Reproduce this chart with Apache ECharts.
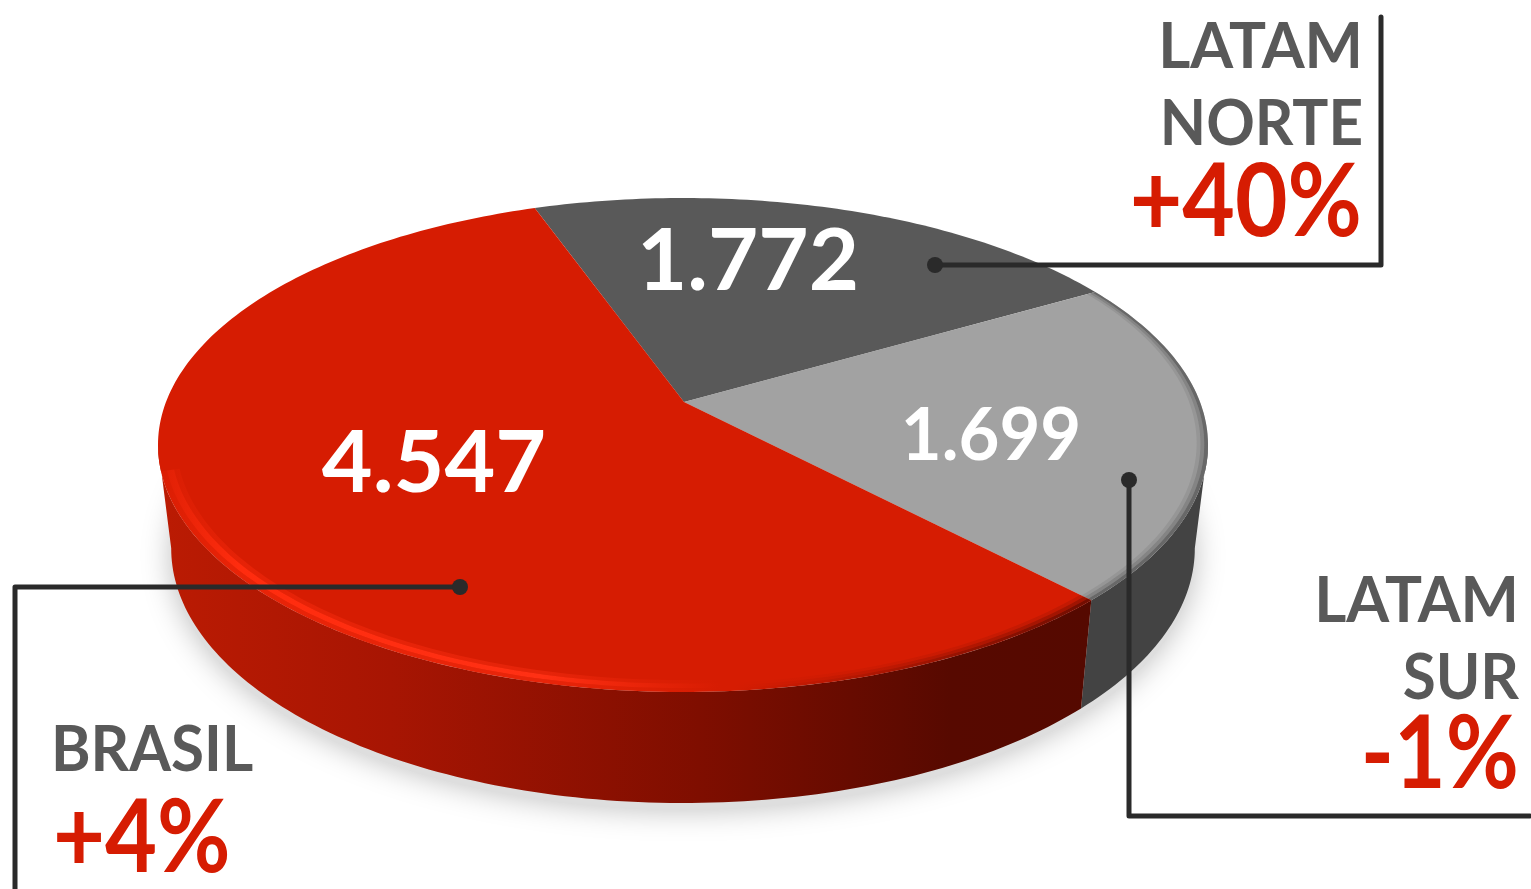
<!DOCTYPE html>
<html>
<head>
<meta charset="utf-8">
<title>Ventas por region</title>
<script src="https://cdn.jsdelivr.net/npm/echarts@6/dist/echarts.min.js"></script>
<style>
html,body{margin:0;padding:0;background:#fff;overflow:hidden}
#chart{width:1531px;height:889px}
</style>
</head>
<body>
<div id="chart"></div>
<script>
// clockwise from the slice that starts at the far left of the back edge
const categories = ['LATAM NORTE', 'LATAM SUR', 'BRASIL'];
const values = [1772, 1699, 4547];
const valueLabels = ['1.772', '1.699', '4.547'];
const changes = ['+40%', '-1%', '+4%'];

const START_ANGLE = -19.5;
const topColors = ['#595959', '#a2a2a2', '#d61c02'];
const K = 0.174; // perspective of the disc
const TOP = {cx: 683, cy: 402, a: 517, b: 239.5};
const BOTTOM = {cx: 683, cy: 504, a: 504, b: 247};
const RED_WALL = ['#bb1b03', '#a71503', '#7f0e00', '#570900', '#550900'];
// where the disc is widest, the wall ends there
const EDGE_R = 100, EDGE_L = 260;

let total = values.reduce((s, v) => s + v, 0);
function sliceAngles(i){
    let start = START_ANGLE;
    for(let n = 0; n < i; n++) start += values[n] / total * 360;
    return [start, start + values[i] / total * 360];
}
function proj(face, deg, r){
    let t = deg * Math.PI / 180;
    let u = r * Math.sin(t), v = -r * Math.cos(t);
    let d = 1 - K * v;
    return [face.cx + face.a * u / d, face.cy + face.b * v / d];
}
function arc(face, a0, a1, r){
    let pts = [], n = Math.max(2, Math.ceil(Math.abs(a1 - a0)));
    for(let i = 0; i <= n; i++) pts.push(proj(face, a0 + (a1 - a0) * i / n, r));
    return pts;
}
function band(a0, a1, r0, r1, fill){
    return {
        type: 'polygon',
        shape: {points: arc(TOP, a0, a1, r0).concat(arc(TOP, a1, a0, r1))},
        style: {fill: fill}
    };
}
function xGradient(stops){
    return new echarts.graphic.LinearGradient(0, 0, 1, 0, stops.map(s => ({offset: s[0], color: s[1]})));
}

function renderShadow(params){
    if(params.dataIndex) return;
    return {
        type: 'polygon',
        shape: {points: arc({...BOTTOM, cy: BOTTOM.cy + 7}, 0, 360, 1)},
        style: {fill: '#dedede', shadowBlur: 30, shadowColor: 'rgba(0,0,0,.26)'}
    };
}
function renderWall(params){
    let [a0, a1] = sliceAngles(params.dataIndex);
    let isRed = params.dataIndex === 2;
    // only the front of the disc shows a wall
    let from = Math.max(a0, EDGE_R), to = Math.min(a1, EDGE_L);
    if(to <= from) return;
    return {
        type: 'polygon',
        shape: {points: arc(TOP, from, to, 1).concat(arc(BOTTOM, to, from, 1))},
        style: {
            fill: isRed ? xGradient([[0, RED_WALL[0]], [.25, RED_WALL[1]], [.58, RED_WALL[2]], [.85, RED_WALL[3]], [1, RED_WALL[4]]]) : '#434343'
        }
    };
}
function renderTop(params){
    let i = params.dataIndex;
    let [a0, a1] = sliceAngles(i);
    let face = arc(TOP, a0, a1, 1);
    let children = [{
        type: 'polygon',
        shape: {points: [[TOP.cx + 1, TOP.cy]].concat(face)},
        style: {fill: topColors[i]}
    }];
    if(i === 1){
        children.push(band(a0, a1, 1, .993, 'rgba(67,67,67,.62)'));
        children.push(band(a0, a1, .993, .986, 'rgba(67,67,67,.32)'));
        children.push(band(a0, a1, .986, .979, 'rgba(67,67,67,.12)'));
    }
    if(i === 2){
        let hot = a => xGradient([[0, 'rgba(255,44,14,' + a * .3 + ')'], [.08, 'rgba(255,44,14,' + a + ')'], [.42, 'rgba(255,48,20,' + a + ')'], [.62, 'rgba(255,44,14,0)'], [1, 'rgba(255,44,14,0)']]);
        let h0 = a0 + 4, h1 = EDGE_L - 6;
        children.push(band(h0, h1, 1, .989, hot(.45)));
        children.push(band(h0, h1, .989, .976, hot(1)));
        children.push(band(h0, h1, .976, .966, hot(.4)));
        let deep = a => xGradient([[0, 'rgba(80,8,0,0)'], [.25, 'rgba(80,8,0,0)'], [1, 'rgba(80,8,0,' + a + ')']]);
        children.push(band(a0, a0 + 50, 1, .992, deep(.75)));
        children.push(band(a0, a0 + 50, .992, .984, deep(.42)));
        children.push(band(a0, a0 + 50, .984, .976, deep(.15)));
    }
    return {type: 'group', children: children};
}

// leader lines and their end dots
function leader(points, dot){
    return [
        {type: 'polyline', z: 10, shape: {points: points}, style: {stroke: '#2a2a2a', lineWidth: 5, fill: null, lineJoin: 'round', lineCap: 'round'}},
        {type: 'circle', z: 10, shape: {cx: dot[0], cy: dot[1], r: 8}, style: {fill: '#2a2a2a'}}
    ];
}
function label(text, x, y, size, color, align, scaleX){
    return {
        type: 'text', z: 11, x: x, y: y, scaleX: scaleX || 1,
        style: {text: text, align: align, verticalAlign: 'middle', fill: color, font: 'bold ' + size + 'px Lato'}
    };
}
const GREY_TEXT = '#595959', RED_TEXT = '#d61c02', WHITE = '#fff';
let norte = categories[0].split(' '), sur = categories[1].split(' ');

let chart = echarts.init(document.getElementById('chart'));
chart.setOption({
    animation: false,
    series: [
        {type: 'custom', coordinateSystem: 'none', data: values, renderItem: renderShadow, z: 1, silent: true},
        {type: 'custom', coordinateSystem: 'none', data: values, renderItem: renderWall, z: 2, silent: true},
        {type: 'custom', coordinateSystem: 'none', data: values, renderItem: renderTop, z: 3, silent: true}
    ],
    graphic: {elements: [].concat(
        leader([[935, 265], [1381, 265], [1381, 17]], [935, 265]),
        leader([[1129, 480], [1129, 816], [1530, 816]], [1129, 480]),
        leader([[460, 587], [15, 587], [15, 889]], [460, 587]),
        [
            label(valueLabels[0], 748, 262, 86, WHITE, 'center', 1.01),
            label(valueLabels[1], 991, 437, 72, WHITE, 'center', .98),
            label(valueLabels[2], 434, 464, 86, WHITE, 'center', 1.02),
            label(norte[0], 1363, 47, 64, GREY_TEXT, 'right', .966),
            label(norte[1], 1363, 124, 64, GREY_TEXT, 'right', .94),
            label(changes[0], 1362, 203, 102, RED_TEXT, 'right', .89),
            label(sur[0], 1519, 601, 64, GREY_TEXT, 'right', .966),
            label(sur[1], 1519, 678, 64, GREY_TEXT, 'right', .94),
            label(changes[1], 1519, 755, 102, RED_TEXT, 'right', .875),
            label(categories[2], 51, 750, 64, GREY_TEXT, 'left', .94),
            label(changes[2], 53, 839, 102, RED_TEXT, 'left', .88)
        ]
    )}
});
</script>
</body>
</html>
